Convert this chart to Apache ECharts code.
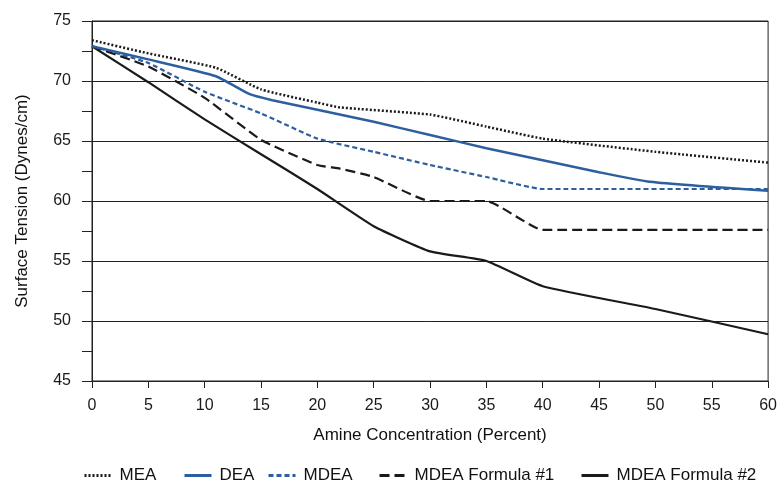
<!DOCTYPE html>
<html>
<head>
<meta charset="utf-8">
<script src="https://cdn.jsdelivr.net/npm/echarts@6/dist/echarts.min.js"></script>
<style>
  html, body { margin: 0; padding: 0; background: #fff; }
  #chart { width: 780px; height: 481px; }
</style>
</head>
<body>
<div id="chart"></div>
<script>
// Surface tension of amine solutions vs. concentration
const xTicks = [0, 5, 10, 15, 20, 25, 30, 35, 40, 45, 50, 55, 60];
const yTicks = [45, 50, 55, 60, 65, 70, 75];

const seriesNames = ['MEA', 'DEA', 'MDEA', 'MDEA Formula #1', 'MDEA Formula #2'];

// [concentration %, surface tension dynes/cm]
const mea = [[0, 73.4], [5, 72.3], [11, 71.1], [15, 69.3], [20, 68.2], [22, 67.8], [30, 67.2], [35, 66.2], [40, 65.2], [50, 64.1], [60, 63.2]];
const dea = [[0, 72.9], [5, 71.8], [11, 70.4], [14, 68.9], [16, 68.4], [20, 67.6], [25, 66.6], [30, 65.5], [35, 64.4], [40, 63.4], [45, 62.4], [49.5, 61.6], [60, 60.85]];
const mdea = [[0, 72.9], [5, 71.5], [10, 69.1], [15, 67.3], [20, 65.2], [25, 64.1], [30, 63.0], [35, 62.0], [40, 61.0], [60, 61.0]];
const mdeaF1 = [[0, 72.9], [5, 71.2], [10, 68.6], [15, 65.1], [20, 63.0], [22, 62.7], [25, 62.0], [30, 60.0], [35, 60.0], [40, 57.6], [60, 57.6]];
const mdeaF2 = [[0, 72.9], [5, 69.9], [10, 66.8], [15, 63.9], [20, 61.0], [25, 57.9], [30, 55.8], [35, 55.0], [40, 52.9], [50, 51.0], [60, 48.9]];

const BLUE = '#2d5f9e';
const BLACK = '#1a1a1a';
const FONT = '"Liberation Sans", Arial, sans-serif';

const styles = {
  'MEA':             { color: BLACK, width: 2.5, type: [2, 2] },
  'DEA':             { color: BLUE,  width: 2.5, type: 'solid' },
  'MDEA':            { color: BLUE,  width: 2.2, type: [5, 3] },
  'MDEA Formula #1': { color: BLACK, width: 2.2, type: [10, 5] },
  'MDEA Formula #2': { color: BLACK, width: 2.2, type: 'solid' }
};
const dataByName = {
  'MEA': mea, 'DEA': dea, 'MDEA': mdea,
  'MDEA Formula #1': mdeaF1, 'MDEA Formula #2': mdeaF2
};

const legendLeft = [78, 178, 262, 373, 575];

const chart = echarts.init(document.getElementById('chart'), null, { renderer: 'canvas' });

chart.setOption({
  animation: false,
  backgroundColor: '#ffffff',
  grid: {
    left: 92, right: 10, top: 21, bottom: 100,
    show: true, borderColor: '#222', borderWidth: 1
  },
  legend: seriesNames.map((name, i) => ({
    data: [name],
    left: legendLeft[i],
    top: 462,
    itemWidth: 27,
    itemHeight: 12,
    itemStyle: { opacity: 0 },
    lineStyle: { width: 3 },
    textStyle: { fontFamily: FONT, fontSize: 17, color: '#111', padding: [0, 0, 0, 3] }
  })),
  xAxis: {
    type: 'value',
    min: 0, max: 60, interval: 5,
    name: 'Amine Concentration (Percent)',
    nameLocation: 'middle',
    nameGap: 46,
    nameTextStyle: { fontFamily: FONT, fontSize: 17, color: '#111' },
    axisLine: { show: true, lineStyle: { color: '#222', width: 1 } },
    axisTick: { show: true, length: 7, lineStyle: { color: '#222' } },
    axisLabel: {
      fontFamily: FONT, fontSize: 16, color: '#1a1a1a', margin: 17,
      formatter: v => xTicks.includes(v) ? String(v) : ''
    },
    splitLine: { show: false }
  },
  yAxis: {
    type: 'value',
    min: 45, max: 75, interval: 5,
    name: 'Surface Tension (Dynes/cm)',
    nameLocation: 'middle',
    nameGap: 61,
    nameTextStyle: { fontFamily: FONT, fontSize: 17, color: '#111' },
    axisLine: { show: true, lineStyle: { color: '#222', width: 1 } },
    axisTick: { show: true, length: 10, lineStyle: { color: '#222' } },
    minorTick: { show: true, splitNumber: 2, length: 10, lineStyle: { color: '#222' } },
    axisLabel: {
      fontFamily: FONT, fontSize: 16, color: '#1a1a1a', margin: 21,
      formatter: v => yTicks.includes(v) ? String(v) : ''
    },
    splitLine: { show: true, lineStyle: { color: '#222', width: 1 } }
  },
  series: seriesNames.map(name => ({
    name,
    type: 'line',
    data: dataByName[name],
    showSymbol: false,
    symbol: 'none',
    smooth: 0.15,
    lineStyle: styles[name],
    itemStyle: { color: styles[name].color },
    z: name === 'DEA' ? 3 : 2
  }))
});
</script>
</body>
</html>
